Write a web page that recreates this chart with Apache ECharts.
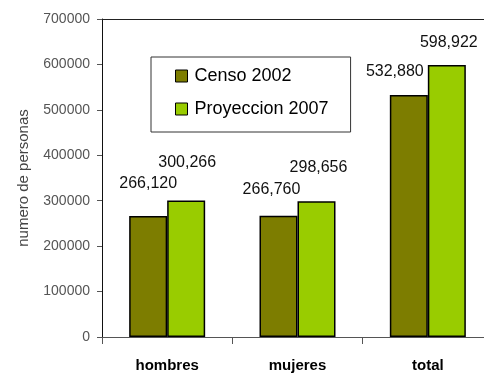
<!DOCTYPE html>
<html>
<head>
<meta charset="utf-8">
<script src="https://cdn.jsdelivr.net/npm/echarts@6/dist/echarts.min.js"></script>
<style>
  html, body { margin: 0; padding: 0; background: #fff; }
  #main { width: 484px; height: 373px; }
</style>
</head>
<body>
<div id="main"></div>
<script>
// datos
var categorias = ['hombres', 'mujeres', 'total'];
var censo2002 = [266120, 266760, 532880];
var proyeccion2007 = [300266, 298656, 598922];
var yTicks = [0, 100000, 200000, 300000, 400000, 500000, 600000, 700000];

// desplazamiento de las etiquetas (como en el original)
var offCenso = [[0, -20], [-7, -13], [-14, -10]];
var offProy = [[1, -25], [2, -21], [2, -9]];

var myChart = echarts.init(document.getElementById('main'));

function fmt(p) {
    return String(p.value).replace(/\B(?=(\d{3})+(?!\d))/g, ',');
}

function withLabels(values, offs) {
    return values.map(function (v, i) {
        return { value: v, label: { offset: offs[i] } };
    });
}

var labelStyle = {
    show: true,
    position: 'top',
    distance: 5,
    formatter: fmt,
    fontFamily: 'Liberation Sans',
    fontSize: 16,
    color: '#111'
};

var option = {
    backgroundColor: '#fff',
    animation: false,
    legend: {
        orient: 'vertical',
        left: 151,
        top: 57,
        padding: [9, 22, 13, 24],
        itemGap: 13,
        itemWidth: 12,
        itemHeight: 12,
        icon: 'rect',
        borderColor: '#333',
        borderWidth: 1,
        itemStyle: { borderColor: '#000', borderWidth: 1 },
        textStyle: {
            fontFamily: 'Liberation Sans',
            fontSize: 18,
            lineHeight: 20,
            color: '#000',
            padding: [0, 0, 0, 2]
        },
        data: ['Censo 2002', 'Proyeccion 2007']
    },
    grid: {
        left: 102,
        top: 19,
        width: 391,
        bottom: 36,
        containLabel: false,
        outerBoundsMode: 'none'
    },
    xAxis: [{
        type: 'category',
        data: categorias,
        axisLine: { lineStyle: { color: '#555', width: 1 } },
        axisTick: { show: true, length: 7, lineStyle: { color: '#555' } },
        axisLabel: {
            margin: 21,
            fontFamily: 'Liberation Sans',
            fontSize: 15,
            fontWeight: 'bold',
            color: '#000'
        }
    }, {
        type: 'category',
        position: 'top',
        data: categorias,
        axisLine: { show: true, lineStyle: { color: '#222', width: 1 } },
        axisTick: { show: false },
        axisLabel: { show: false }
    }],
    yAxis: {
        type: 'value',
        min: yTicks[0],
        max: yTicks[yTicks.length - 1],
        interval: yTicks[1] - yTicks[0],
        name: 'numero de personas',
        nameLocation: 'middle',
        nameGap: 71,
        nameTextStyle: {
            fontFamily: 'Liberation Sans',
            fontSize: 15,
            color: '#444'
        },
        axisLine: { show: true, lineStyle: { color: '#111', width: 1 } },
        axisTick: { show: true, length: 5, lineStyle: { color: '#555' } },
        splitLine: { show: false },
        axisLabel: {
            margin: 12,
            formatter: function (v) { return String(v); },
            fontFamily: 'Liberation Sans',
            fontSize: 14,
            color: '#555'
        }
    },
    series: [{
        name: 'Censo 2002',
        type: 'bar',
        barWidth: 38,
        barGap: 0,
        data: withLabels(censo2002, offCenso),
        itemStyle: { color: '#7d7d00', borderColor: '#000', borderWidth: 1.5 },
        label: labelStyle
    }, {
        name: 'Proyeccion 2007',
        type: 'bar',
        barWidth: 38,
        barGap: 0,
        data: withLabels(proyeccion2007, offProy),
        itemStyle: { color: '#99cc00', borderColor: '#000', borderWidth: 1.5 },
        label: labelStyle
    }]
};

myChart.setOption(option);
</script>
</body>
</html>
